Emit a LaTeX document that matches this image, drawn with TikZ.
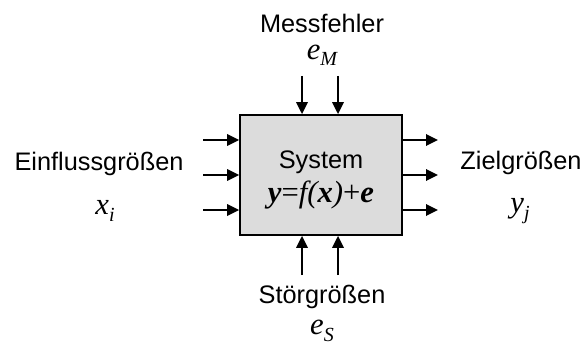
\documentclass[tikz,border=0pt]{standalone}
\usepackage{fontspec}
\setmainfont{Liberation Sans}
\newfontfamily\tmsfont{Liberation Serif}
\usetikzlibrary{arrows.meta}

\newcommand{\idx}[1]{\raisebox{-0.45ex}{\fontsize{15}{15}\selectfont #1}}

\begin{document}
\begin{tikzpicture}[x=0.75pt,y=0.75pt,yscale=-1,xscale=1,
  pfeil/.style={line width=1.7pt,-{Triangle[length=9pt,width=8.5pt]}},
  lbl/.style={inner sep=0pt,font=\fontsize{19}{22}\selectfont},
  var/.style={inner sep=0pt,font=\fontsize{23}{26}\selectfont\tmsfont\itshape}]
\useasboundingbox (0,0) rectangle (580,345);

%Shape: Rectangle [id:sys]
\node (sys) [draw, line width=1.3pt, fill={rgb,255:red,220;green,220;blue,220},
  minimum width=121.5pt, minimum height=90pt, inner sep=0pt] at (321,175) {};

% Text Node
\node (sysname) [lbl] at (321,162) {System};
% Text Node
\node (sysfun) [var] at (321,195) {\textbf{y}\textup{=}f(\textbf{x})\textup{+}\textbf{e}};

%Coordinates
\coordinate (in1) at (203,140);
\coordinate (in2) at (203,175);
\coordinate (in3) at (203,210);
\coordinate (out1) at (438,140);
\coordinate (out2) at (438,175);
\coordinate (out3) at (438,210);
\coordinate (mf1) at (302,76);
\coordinate (mf2) at (338,76);
\coordinate (sg1) at (302,275);
\coordinate (sg2) at (338,275);

%Straight Lines
\foreach \c in {in1,in2,in3} \draw [pfeil] (\c) -- (\c -| sys.west);
\foreach \c in {out1,out2,out3} \draw [pfeil] (\c -| sys.east) -- (\c);
\foreach \c in {mf1,mf2} \draw [pfeil] (\c) -- (\c |- sys.north);
\foreach \c in {sg1,sg2} \draw [pfeil] (\c) -- (\c |- sys.south);

% Text Node
\node (mess) [lbl] at (322,23) {Messfehler};
% Text Node
\node (eM) [var] at (322,55) {e\idx{M}};
% Text Node
\node (einfl) [lbl] at (99,164) {Einflussgrößen};
% Text Node
\node (xi) [var] at (105,211) {x\idx{i}};
% Text Node
\node (ziel) [lbl] at (521,163) {Zielgrößen};
% Text Node
\node (yj) [var] at (520,211) {y\idx{j}};
% Text Node
\node (stoer) [lbl] at (322,297) {Störgrößen};
% Text Node
\node (eS) [var] at (322,331) {e\idx{S}};

\end{tikzpicture}
\end{document}
